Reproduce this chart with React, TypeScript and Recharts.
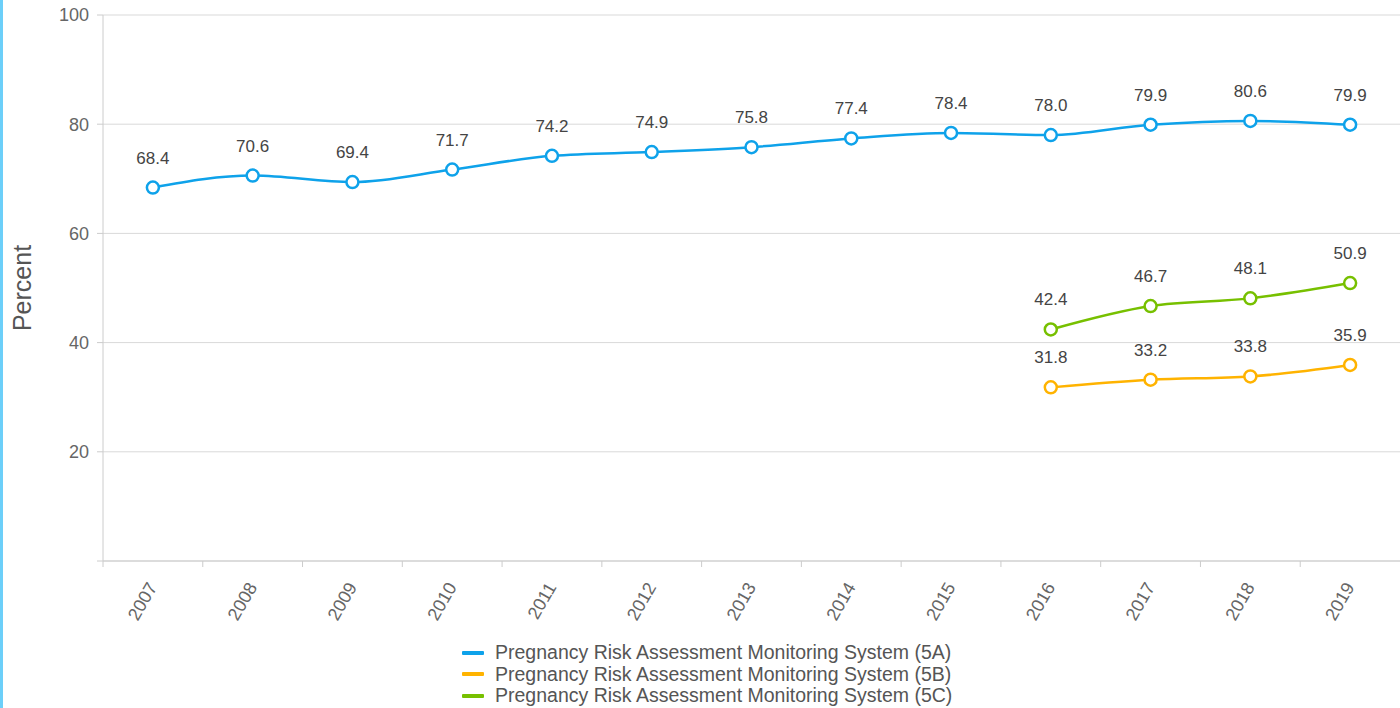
import React from 'react';
import { LineChart, Line, XAxis, YAxis, CartesianGrid, Legend, LabelList } from 'recharts';

const YEARS = ['2007', '2008', '2009', '2010', '2011', '2012', '2013', '2014', '2015', '2016', '2017', '2018', '2019'];
const SERIES_5A = [68.4, 70.6, 69.4, 71.7, 74.2, 74.9, 75.8, 77.4, 78.4, 78.0, 79.9, 80.6, 79.9];
const SERIES_5B = [null, null, null, null, null, null, null, null, null, 31.8, 33.2, 33.8, 35.9];
const SERIES_5C = [null, null, null, null, null, null, null, null, null, 42.4, 46.7, 48.1, 50.9];
const Y_TICKS = [0, 20, 40, 60, 80, 100];

const SERIES = [
  { key: 'a', name: 'Pregnancy Risk Assessment Monitoring System (5A)', color: '#0ea2ea' },
  { key: 'b', name: 'Pregnancy Risk Assessment Monitoring System (5B)', color: '#ffb300' },
  { key: 'c', name: 'Pregnancy Risk Assessment Monitoring System (5C)', color: '#77c000' },
];

const data = YEARS.map((y, i) => ({ year: y, a: SERIES_5A[i], b: SERIES_5B[i], c: SERIES_5C[i] }));

const W = 1400;
const H = 708;
const Y_AXIS_W = 103;
const PLOT_W = W - Y_AXIS_W;
const BAND = PLOT_W / YEARS.length;
const FONT = '"Liberation Sans", Arial, sans-serif';

const XTick = (props: any) => {
  const { x, y, payload } = props;
  const axisY = y - 8;
  const ax = x + 5;
  const ay = y + 18;
  return (
    <g>
      <line x1={x - BAND / 2} y1={axisY} x2={x - BAND / 2} y2={axisY + 6} stroke="#ccc" />
      <text
        x={ax}
        y={ay}
        textAnchor="end"
        fontSize={18}
        fill="#666"
        fontFamily={FONT}
        transform={`rotate(-60, ${ax}, ${ay})`}
      >
        {payload.value}
      </text>
    </g>
  );
};

const makeLabel = (props: any) => {
  const { x, y, value } = props;
  if (value === null || value === undefined) return null;
  return (
    <text x={x} y={y - 24} textAnchor="middle" fontSize={17} fill="#444" fontFamily={FONT}>
      {Number(value).toFixed(1)}
    </text>
  );
};

const LegendContent = () => (
  <div style={{ fontFamily: FONT, fontSize: 19.5, color: '#555', lineHeight: '21.5px' }}>
    {SERIES.map((s) => (
      <div key={s.key} style={{ display: 'flex', alignItems: 'center', height: 21.5, whiteSpace: 'nowrap' }}>
        <span style={{ display: 'inline-block', width: 22, height: 4, background: s.color, borderRadius: 1, marginRight: 11 }} />
        <span>{s.name}</span>
      </div>
    ))}
  </div>
);

export default function App() {
  return (
    <div style={{ position: 'absolute', left: 0, top: 0, width: W, height: H, background: '#fff' }}>
      <div style={{ position: 'absolute', left: 0, top: 0, width: 3, height: H, background: '#6ccff9', zIndex: 2 }} />
      <LineChart width={W} height={H} data={data} margin={{ top: 15, right: 0, left: 0, bottom: 0 }}>
        <CartesianGrid vertical={false} stroke="#d9d9d9" />
        <XAxis
          dataKey="year"
          height={147}
          padding={{ left: BAND / 2, right: BAND / 2 }}
          tickLine={false}
          tickSize={6}
          tick={<XTick />}
          interval={0}
          axisLine={{ stroke: '#ccc' }}
        />
        <YAxis
          width={Y_AXIS_W}
          domain={[0, 100]}
          ticks={Y_TICKS}
          interval={0}
          tickFormatter={(v: number) => (v === 0 ? '' : String(v))}
          tick={{ fontSize: 18, fill: '#666', fontFamily: FONT }}
          tickLine={{ stroke: '#ccc' }}
          axisLine={{ stroke: '#ccc' }}
          tickMargin={8}
          label={{
            content: (p: any) => {
              const vb = p.viewBox;
              const cx = vb.x + 22;
              const cy = vb.y + vb.height / 2;
              return (
                <text x={cx} y={cy} textAnchor="middle" dominantBaseline="central" fontSize={25} fill="#555" fontFamily={FONT} transform={`rotate(-90, ${cx}, ${cy})`}>
                  Percent
                </text>
              );
            },
          }}
        />
        <Legend
          layout="vertical"
          align="center"
          verticalAlign="middle"
          content={<LegendContent />}
          wrapperStyle={{ top: 642, left: 462, width: 520, height: 66 }}
        />
        {SERIES.map((s) => (
          <Line
            key={s.key}
            type="monotone"
            dataKey={s.key}
            name={s.name}
            stroke={s.color}
            strokeWidth={2.5}
            dot={{ r: 6, fill: '#fff', stroke: s.color, strokeWidth: 2.5 }}
            activeDot={false}
            isAnimationActive={false}
            connectNulls={false}
          >
            <LabelList dataKey={s.key} content={makeLabel} />
          </Line>
        ))}
      </LineChart>
    </div>
  );
}
